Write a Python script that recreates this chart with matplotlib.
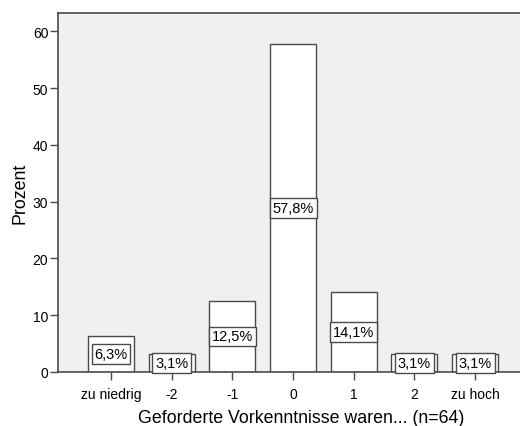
import matplotlib

matplotlib.use("Agg")
import matplotlib.pyplot as plt

plt.rcParams["font.family"] = ["Liberation Sans", "DejaVu Sans"]

categories = ["zu niedrig", "-2", "-1", "0", "1", "2", "zu hoch"]
percent = [6.25, 3.125, 12.5, 57.8125, 14.0625, 3.125, 3.125]
bar_labels = ["6,3%", "3,1%", "12,5%", "57,8%", "14,1%", "3,1%", "3,1%"]

EDGE = "#4a4a4a"
PANEL = "#f0f0f0"

fig = plt.figure(figsize=(5.2, 4.27), dpi=100)
ax = fig.add_axes([0.1115, 0.1265, 0.8885, 0.8405])
ax.set_facecolor(PANEL)

xs = list(range(len(categories)))
ax.bar(xs, percent, width=0.76, color="white", edgecolor=EDGE, linewidth=1.0, zorder=2)

for x, v, lab in zip(xs, percent, bar_labels):
    ax.text(x, v / 2, lab, ha="center", va="center", fontsize=10.5, color="black", zorder=3,
            bbox=dict(boxstyle="square,pad=0.2", facecolor="white", edgecolor=EDGE, linewidth=1.0))

ax.set_xlim(-0.874, 6.74)
ax.set_ylim(0, 63.2)
ax.set_yticks([0, 10, 20, 30, 40, 50, 60])
ax.set_xticks(xs)
ax.set_xticklabels(categories, fontsize=10)
ax.tick_params(axis="y", labelsize=10, length=6, width=1, color=EDGE, pad=1)
ax.tick_params(axis="x", length=6, width=1, color=EDGE, pad=5)

for s in ("left", "top", "bottom"):
    ax.spines[s].set_color(EDGE)
    ax.spines[s].set_linewidth(1.2)
ax.spines["right"].set_visible(False)

ax.set_ylabel("Prozent", fontsize=12.8, labelpad=3)
# x title sits low, near the bottom edge as in the source export
fig.text(301 / 520, 4 / 427, "Geforderte Vorkenntnisse waren... (n=64)",
         fontsize=12.8, ha="center", va="baseline")

fig.savefig("out.png", dpi=100)
